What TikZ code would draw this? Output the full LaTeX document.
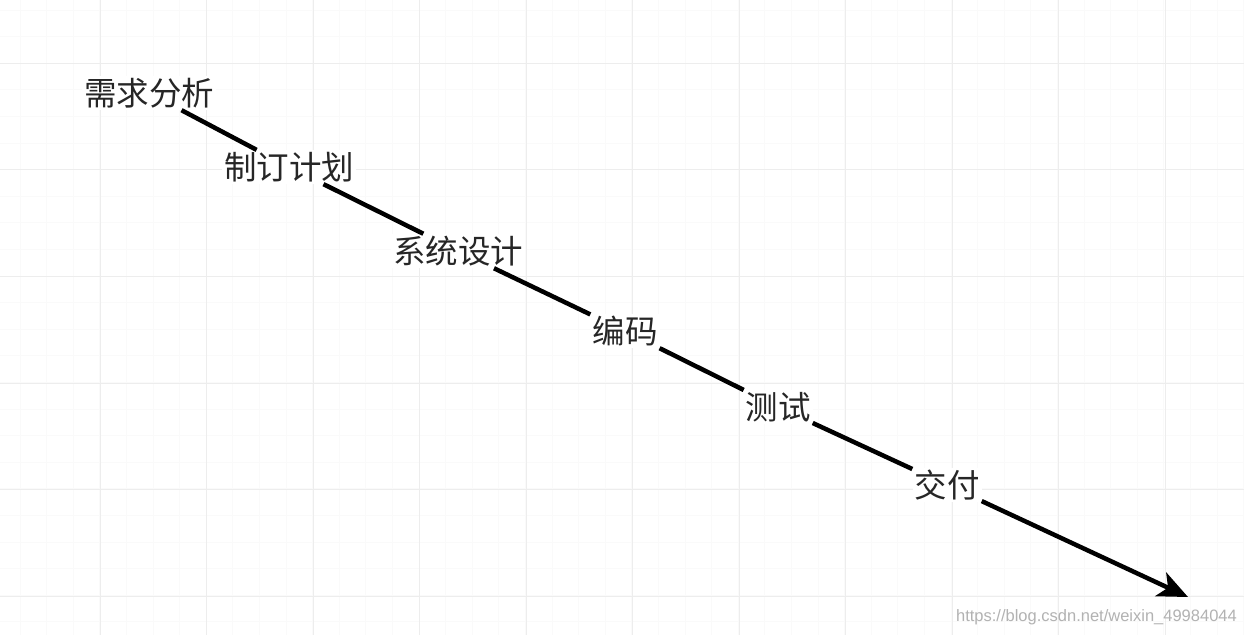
\documentclass[tikz,border=0pt]{standalone}
\usepackage{fontspec}
\newfontfamily\cjk{Noto Sans CJK SC}
\setsansfont{Liberation Sans}
\usetikzlibrary{arrows.meta}
\begin{document}
\begin{tikzpicture}[x=1pt,y=-1pt,
  lbl/.style={font=\cjk\fontsize{32.5}{35}\selectfont, text=black!85, inner sep=2pt, fill=white},
  conn/.style={line width=4.5pt, black}]
\fill[white] (0,0) rectangle (1244,635);
\useasboundingbox (0,0) rectangle (1244,635);
% minor grid
\foreach \i in {0,...,48} {
  \draw[black!2, line width=0.8pt] ({20+26.6*\i},0) -- ({20+26.6*\i},635);
}
\foreach \j in {0,...,24} {
  \draw[black!2, line width=0.8pt] (0,{10+26.6*\j}) -- (1244,{10+26.6*\j});
}
% major grid
\foreach \i in {0,...,11} {
  \draw[black!7, line width=1pt] ({100+106.5*\i},0) -- ({100+106.5*\i},635);
}
\foreach \j in {0,...,5} {
  \draw[black!7, line width=1pt] (0,{63+106.7*\j}) -- (1244,{63+106.7*\j});
}
\node[lbl] (a) at (149,93) {需求分析};
\node[lbl] (b) at (289,167) {制订计划};
\node[lbl] (c) at (458,251) {系统设计};
\node[lbl] (d) at (625,331) {编码};
\node[lbl] (e) at (778,407) {测试};
\node[lbl] (f) at (947,485) {交付};
\coordinate (g) at (1188,597);
\draw[conn] (a) -- (b);
\draw[conn] (b) -- (c);
\draw[conn] (c) -- (d);
\draw[conn] (d) -- (e);
\draw[conn] (e) -- (f);
\draw[conn, -{Stealth[length=30pt,width=26pt,inset=8pt]}] (f) -- (g);
\node[font=\sffamily\fontsize{16.5}{18}\selectfont, text=black!30, anchor=east, inner sep=0pt] (w) at (1237,617) {https://blog.csdn.net/weixin\_49984044};
\end{tikzpicture}
\end{document}
